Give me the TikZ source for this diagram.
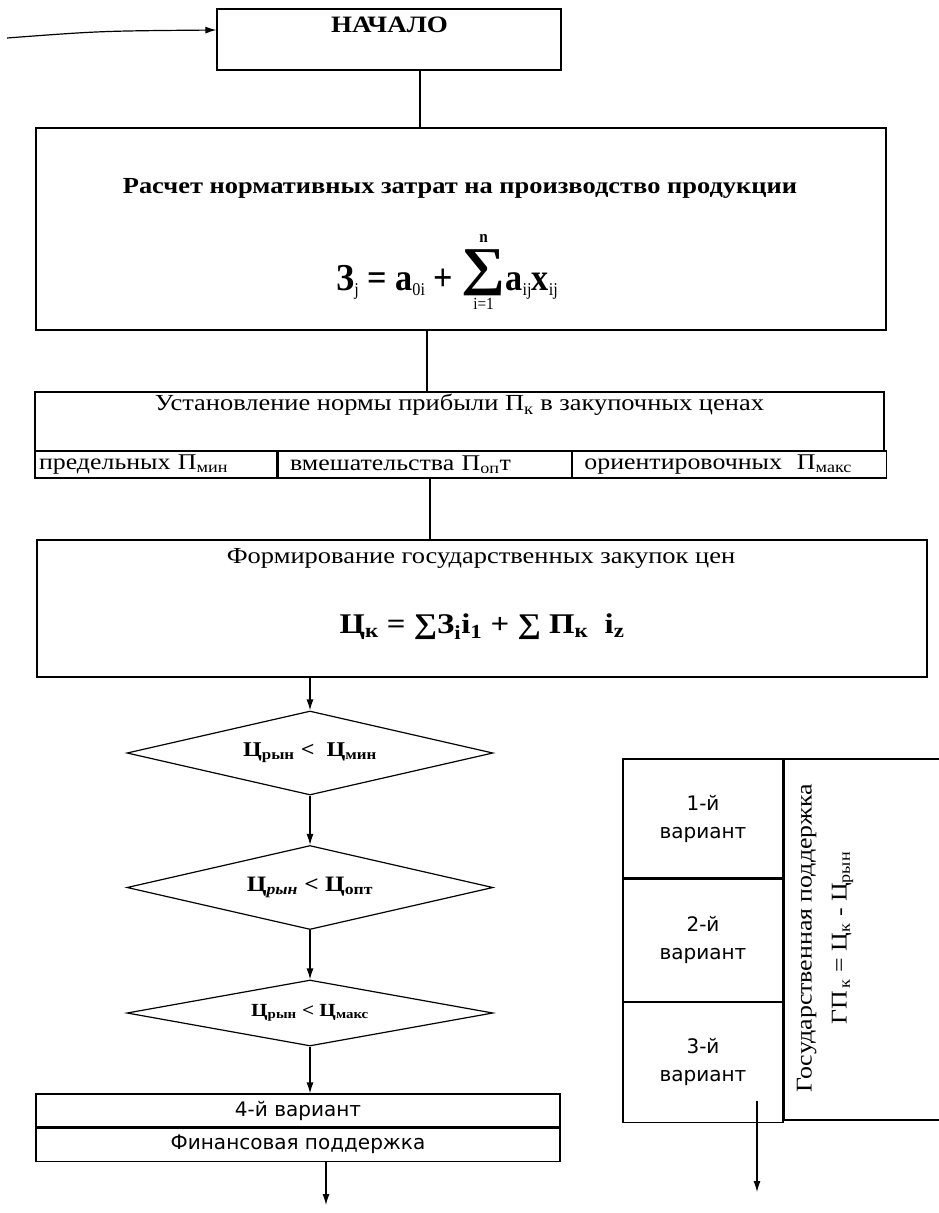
\documentclass[tikz,border=0pt]{standalone}
\usepackage{graphicx}
\usepackage{fontspec}
\setmainfont{Liberation Serif}[FakeStretch=1.15]
\newfontfamily\formulafont{Liberation Serif}[FakeStretch=0.9]
\newfontfamily\sansfont{DejaVu Sans}
\usetikzlibrary{positioning, shapes.geometric, arrows.meta}
\newcommand{\sub}[1]{\textsubscript{#1}}
\newcommand{\subm}[1]{\raisebox{-5pt}{\fontsize{18}{18}\selectfont\mdseries #1}}
\newcommand{\bigsum}[2]{\raisebox{-19pt}{\shortstack{{\fontsize{17}{17}\selectfont #2}\\[4pt]\scalebox{1.8}[1.4]{∑}\\[-1pt]{\fontsize{17}{17}\selectfont\mdseries #1}}}}
\tikzset{
    block/.style={
        draw, inner sep = 0pt,
        line width = 1.2pt
    },
    cell/.style={
        draw, inner ysep = 0pt,
        minimum height = 27pt,
        align = left, line width = 1.2pt,
        font = \fontsize{22.5}{24}\selectfont
    },
    variant/.style={
        draw, minimum width = 160pt,
        align = center, line width = 1.2pt,
        font = \fontsize{20}{28}\sansfont
    },
    decision/.style={
        draw, diamond, aspect = 4.4, inner sep = 0pt,
        minimum width = 366pt, minimum height = 84pt,
        line width = 1.2pt,
        font = \fontsize{21}{25}\selectfont\bfseries
    },
    link/.style = {line width = 1.2pt},
    line/.style = {-{Latex[length=11pt, width=7pt]}, line width = 1.2pt}
}

\begin{document}
\begin{tikzpicture}[x = 1pt, y = -1pt]

    \useasboundingbox (0,0) rectangle (939,1213);

    % start
    \node[block, minimum width = 344pt, minimum height = 61pt] (start) at (389,39.5) {};
    \node[font = \fontsize{23.5}{28}\selectfont\bfseries] (start-text) at (389.5,25) {НАЧАЛО};
    \coordinate (entry) at (7,38);
    \draw[line] (entry) .. controls (100,31) .. ([yshift=9.5pt]start.west);

    % normative costs
    \node[block, minimum width = 850pt, minimum height = 202pt] (calc) at (461,229) {};
    \node[font = \fontsize{23}{28}\selectfont\bfseries] (calc-title) at (460,188) {Расчет нормативных затрат на производство продукции};
    \node[anchor = base, font = \fontsize{38}{40}\formulafont\bfseries] (calc-formula) at (447,290)
        {З\subm{j} = a\subm{0i} + \bigsum{i=1}{n}a\subm{ij}x\subm{ij}};

    % profit norm
    \node[block, minimum width = 849pt, minimum height = 59pt] (norm) at (459.5,421.5) {};
    \node[font = \fontsize{23}{25}\selectfont] (norm-title) at (459.5,405) {Установление нормы прибыли П\sub{к} в закупочных ценах};
    \node[cell, inner xsep = 4pt, text width = 234pt] (lim) at (156,464.5) {предельных П\sub{мин}};
    \node[cell, inner xsep = 12pt, text width = 269pt, right = 0pt of lim] (opt) {вмешательства П\sub{оп}т};
    \node[cell, inner xsep = 12pt, text width = 290pt, right = 0pt of opt] (ori) {ориентировочных~ П\sub{макс}};

    % purchase prices
    \node[block, minimum width = 890pt, minimum height = 137pt] (form) at (482,608.5) {};
    \node[font = \fontsize{23}{26}\selectfont] (form-title) at (481,558) {Формирование государственных закупок цен};
    \node[font = \fontsize{28.5}{34}\selectfont\bfseries] (form-formula) at (482,627)
        {Ц\sub{к} = ∑З\sub{i}i\sub{1} + ∑ П\sub{к}~ i\sub{z}};

    \draw[link] (420,0 |- start.south) -- (420,0 |- calc.north);
    \draw[link] (427,0 |- calc.south) -- (427,0 |- norm.north);
    \draw[link] (430,0 |- opt.south) -- (430,0 |- form.north);

    % market price checks
    \node[decision] (d1) at (310,753) {Ц\sub{рын} <~ Ц\sub{мин}};
    \node[decision, font = \fontsize{22}{26}\selectfont\bfseries] (d2) at (310,887.5) {Ц\sub{\itshape рын} < Ц\sub{опт}};
    \node[decision, minimum height = 66pt, font = \fontsize{18.5}{23}\selectfont\bfseries] (d3) at (310,1013) {Ц\sub{рын} < Ц\sub{макс}};

    \draw[line] (d1.north |- form.south) -- (d1.north);
    \draw[line] (d1.south) -- (d2.north);
    \draw[line] (d2.south) -- (d3.north);

    % fourth variant
    \node[block, minimum width = 524pt, minimum height = 33pt, font = \fontsize{20}{23}\sansfont] (var4) at (298,1110.5) {4-й вариант};
    \node[block, minimum width = 524pt, minimum height = 33pt, font = \fontsize{20}{23}\sansfont, below = 0pt of var4] (fin) {Финансовая поддержка};
    \draw[line] (d3.south) -- (d3.south |- var4.north);
    \coordinate (exit-left) at (326,1205);
    \draw[line] (exit-left |- fin.south) -- (exit-left);

    % state support
    \node[variant, minimum height = 119pt] (var1) at (703,818.5) {1-й\\вариант};
    \node[variant, minimum height = 122pt, below = 0pt of var1] (var2) {2-й\\вариант};
    \node[variant, minimum height = 120pt, below = 0pt of var2] (var3) {3-й\\вариант};
    \node[block, minimum width = 170pt, minimum height = 361pt, anchor = north west] (gov) at (var1.north east) {};
    \node[rotate = 90, align = center, font = \fontsize{22.5}{35}\selectfont] (gov-text) at (825,938)
        {Государственная поддержка\\ГП\sub{\,к} = Ц\sub{к} - Ц\sub{рын}};
    \coordinate (exit-right) at (757,1192);
    \draw[line] ([yshift=22pt]var3.south -| exit-right) -- (exit-right);

\end{tikzpicture}
\end{document}
